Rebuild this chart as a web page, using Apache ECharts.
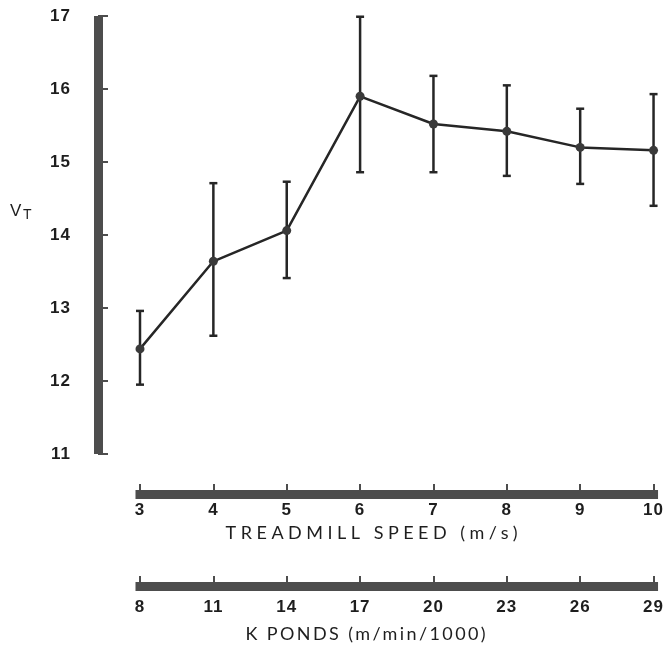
<!DOCTYPE html>
<html>
<head>
<meta charset="utf-8">
<script src="https://cdn.jsdelivr.net/npm/echarts@6/dist/echarts.min.js"></script>
<style>
  html, body { margin: 0; padding: 0; background: #fff; }
  #chart { width: 666px; height: 648px; }
</style>
</head>
<body>
<div id="chart"></div>
<script>
// treadmill speed (m/s) and matching K ponds tick labels
const speeds = [3, 4, 5, 6, 7, 8, 9, 10];
const kpondsLabels = ['8', '11', '14', '17', '20', '23', '26', '29'];

// V_T mean with error bar ends
const vtMean = [12.44, 13.64, 14.06, 15.90, 15.52, 15.42, 15.20, 15.16];
const vtHigh = [12.96, 14.71, 14.73, 16.99, 16.18, 16.05, 15.73, 15.93];
const vtLow  = [11.95, 12.62, 13.41, 14.86, 14.86, 14.81, 14.70, 14.40];

const yTicks = [11, 12, 13, 14, 15, 16, 17];

const speedName = 'TREADMILL SPEED (m/s)';
const kpondsName = 'K PONDS (m/min/1000)';

// spaced lettering like the printed figure (canvas letterSpacing)
const spacing = { [speedName]: '4.5px', [kpondsName]: '2.4px' };
const origFill = CanvasRenderingContext2D.prototype.fillText;
CanvasRenderingContext2D.prototype.fillText = function (t, x, y, w) {
  this.letterSpacing = spacing[t] || '1px';
  return w === undefined ? origFill.call(this, t, x, y) : origFill.call(this, t, x, y, w);
};

const barColor = '#4d4d4d';
const inkColor = '#262626';
const numFont = { fontFamily: 'Liberation Sans', fontWeight: 'bold', fontSize: 17, color: '#1e1e1e' };
const nameFont = { fontFamily: 'Lato', fontSize: 18, color: '#1e1e1e' };

const chart = echarts.init(document.getElementById('chart'), null, { renderer: 'canvas' });

const axisBase = {
  type: 'value',
  position: 'bottom',
  min: speeds[0],
  max: speeds[speeds.length - 1],
  interval: 1,
  nameLocation: 'middle',
  axisLine: { show: true, onZero: false, lineStyle: { color: barColor, width: 9, cap: 'square' } },
  axisTick: { show: true, inside: true, length: 10, lineStyle: { color: barColor, width: 2 } },
  splitLine: { show: false },
};

chart.setOption({
  animation: false,
  backgroundColor: '#ffffff',
  grid: { left: 140, right: 9, top: 16, bottom: 191 },
  xAxis: [
    Object.assign({}, axisBase, {
      offset: 40,
      name: speedName,
      nameGap: 29,
      nameTextStyle: Object.assign({ padding: [0, 46, 0, 0] }, nameFont),
      axisLabel: Object.assign({ margin: 8 }, numFont),
    }),
    Object.assign({}, axisBase, {
      offset: 132,
      name: kpondsName,
      nameGap: 39,
      nameTextStyle: Object.assign({ padding: [0, 60, 0, 0] }, nameFont),
      axisLabel: Object.assign({
        margin: 13,
        formatter: (v) => kpondsLabels[speeds.indexOf(v)],
      }, numFont),
    }),
  ],
  yAxis: {
    type: 'value',
    min: yTicks[0],
    max: yTicks[yTicks.length - 1],
    interval: 1,
    offset: 42,
    axisLine: { show: true, lineStyle: { color: barColor, width: 9, cap: 'butt' } },
    axisTick: { show: true, inside: true, length: 10, lineStyle: { color: barColor, width: 2 } },
    axisLabel: Object.assign({ margin: 27 }, numFont),
    splitLine: { show: false },
  },
  graphic: [
    { type: 'text', left: 10, top: 203, style: { text: 'V', font: '17px "Liberation Sans"', fill: '#1e1e1e' } },
    { type: 'text', left: 23, top: 208, style: { text: 'T', font: '14px "Liberation Sans"', fill: '#1e1e1e' } },
  ],
  series: [
    {
      type: 'custom',
      xAxisIndex: 0,
      data: speeds.map((s, i) => [s, vtLow[i], vtHigh[i]]),
      renderItem: (params, api) => {
        const lo = api.coord([api.value(0), api.value(1)]);
        const hi = api.coord([api.value(0), api.value(2)]);
        const cap = 4;
        const style = { stroke: inkColor, lineWidth: 2.5 };
        return {
          type: 'group',
          children: [
            { type: 'line', shape: { x1: lo[0], y1: lo[1], x2: hi[0], y2: hi[1] }, style },
            { type: 'line', shape: { x1: hi[0] - cap, y1: hi[1], x2: hi[0] + cap, y2: hi[1] }, style },
            { type: 'line', shape: { x1: lo[0] - cap, y1: lo[1], x2: lo[0] + cap, y2: lo[1] }, style },
          ],
        };
      },
      z: 2,
    },
    {
      type: 'line',
      xAxisIndex: 0,
      data: speeds.map((s, i) => [s, vtMean[i]]),
      symbol: 'circle',
      symbolSize: 9,
      itemStyle: { color: '#3a3a3a' },
      lineStyle: { color: inkColor, width: 2.5 },
      z: 3,
    },
  ],
});
</script>
</body>
</html>
